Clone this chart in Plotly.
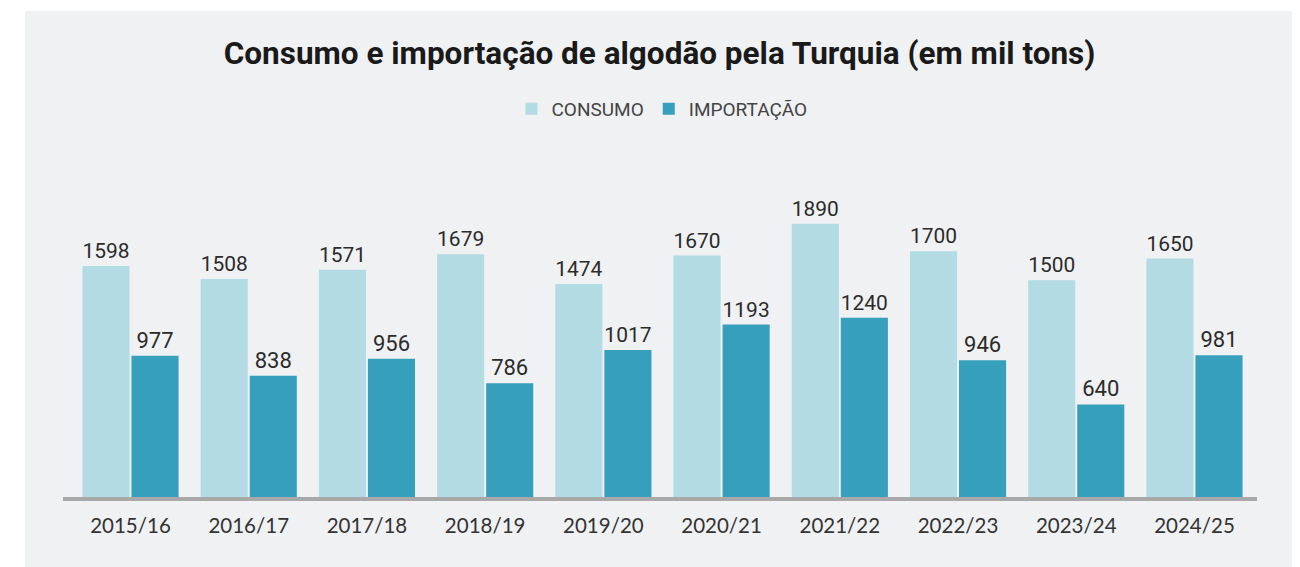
import plotly.graph_objects as go

categories = ["2015/16", "2016/17", "2017/18", "2018/19", "2019/20",
              "2020/21", "2021/22", "2022/23", "2023/24", "2024/25"]
consumo = [1598, 1508, 1571, 1679, 1474, 1670, 1890, 1700, 1500, 1650]
importacao = [977, 838, 956, 786, 1017, 1193, 1240, 946, 640, 981]

C_CONS = "#b2dbe4"
C_IMP = "#369fbc"
BG = "#f0f1f3"

# the page adds an 8px body margin, so figure coords = screen coords - 8
OFF = 8
FW, FH = 1300, 567

fig = go.Figure()
fig.add_trace(go.Bar(
    name="CONSUMO", x=categories, y=consumo, marker_color=C_CONS,
    marker_line_width=0, text=consumo, textposition="outside",
    cliponaxis=False,
    textfont=dict(family="Roboto", size=22, color="#2b2b2b"),
))
fig.add_trace(go.Bar(
    name="IMPORTAÇÃO", x=categories, y=importacao, marker_color=C_IMP,
    marker_line_width=0, text=importacao, textposition="outside",
    cliponaxis=False,
    textfont=dict(family="Roboto", size=22, color="#2b2b2b"),
))

# plot area in figure pixels
L, R, T, B = 63 - OFF, 1257 - OFF, 150 - OFF, 497 - OFF
W, H = R - L, B - T
fig.add_shape(type="rect", xref="paper", yref="paper", layer="below",
              x0=(25 - OFF - L) / W, x1=(1292 - OFF - L) / W,
              y0=(B - FH - 10) / H, y1=(B - (11 - OFF)) / H,
              fillcolor=BG, line_width=0)

fig.update_layout(
    width=FW, height=FH,
    paper_bgcolor="white", plot_bgcolor="rgba(0,0,0,0)",
    margin=dict(l=L, r=FW - R, t=T, b=FH - B),
    barmode="group", bargap=0.17, bargroupgap=0.04,
    title=dict(text="<b>Consumo e importação de algodão pela Turquia (em mil tons)</b>",
               x=(659.5 - OFF - L) / W, xref="paper", xanchor="center",
               y=1 - (53 - OFF) / FH, yref="container", yanchor="middle",
               font=dict(family="Roboto", size=31.5, color="#1a1a1a")),
    legend=dict(orientation="h", x=(662 - OFF - L) / W, xanchor="center",
                y=(B - (109 - OFF)) / H, yanchor="middle",
                font=dict(family="Roboto", size=19, color="#444444"),
                bgcolor="rgba(0,0,0,0)", itemwidth=30, tracegroupgap=0),
    showlegend=True,
    xaxis=dict(range=[-0.571, 9.529], showline=True, linecolor="#a8a8a8",
               linewidth=4, ticks="outside", ticklen=7,
               tickcolor="rgba(0,0,0,0)", showgrid=False, zeroline=False,
               tickfont=dict(family="Lato", size=20.5, color="#333333")),
    yaxis=dict(range=[0, 2400], visible=False, showgrid=False, zeroline=False),
)

fig.write_html("out.html")
